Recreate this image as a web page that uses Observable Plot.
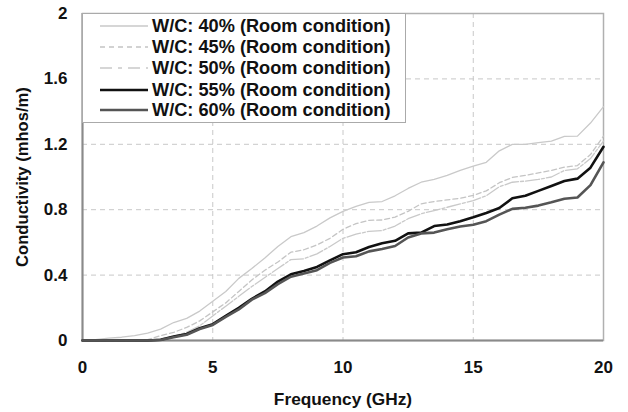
<!DOCTYPE html>
<html>
<head>
<meta charset="utf-8">
<script src="https://cdn.jsdelivr.net/npm/d3@7"></script>
<script src="https://cdn.jsdelivr.net/npm/@observablehq/plot@0.6"></script>
<style>
  html, body { margin: 0; padding: 0; background: #fff; }
  #wrap { position: relative; width: 628px; height: 412px; font-family: "Liberation Sans", Arial, sans-serif; }
  #wrap svg text { font-family: "Liberation Sans", Arial, sans-serif; font-weight: bold; fill: #111; }
  #wrap svg g[aria-label="x-axis label"] text { font-size: 17.3px; }
  #wrap svg g[aria-label="y-axis label"] text { font-size: 16.6px; }
  #legend { position: absolute; background: #fff; border: 1px solid #aaa; box-sizing: border-box; }
  .item { position: absolute; left: 0; height: 20px; display: flex; align-items: center; white-space: nowrap; }
  .item span { font-weight: bold; font-size: 18.2px; color: #111; margin-left: 4px; }
</style>
</head>
<body>
<div id="wrap"></div>
<script>
const freq = [0,0.5,1,1.5,2,2.5,3,3.5,4,4.5,5,5.5,6,6.5,7,7.5,8,8.5,9,9.5,10,10.5,11,11.5,12,12.5,13,13.5,14,14.5,15,15.5,16,16.5,17,17.5,18,18.5,19,19.5,20];
const wc40 = [0,0.005,0.015,0.02,0.03,0.045,0.07,0.11,0.135,0.18,0.24,0.3,0.38,0.44,0.505,0.575,0.635,0.66,0.7,0.75,0.79,0.82,0.845,0.85,0.885,0.93,0.968,0.985,1.01,1.04,1.066,1.09,1.16,1.2,1.2,1.21,1.22,1.248,1.25,1.33,1.43];
const wc45 = [0,0,0,0,0,0.005,0.03,0.05,0.08,0.12,0.175,0.23,0.3,0.37,0.43,0.48,0.54,0.555,0.585,0.625,0.68,0.715,0.735,0.737,0.755,0.79,0.836,0.85,0.86,0.87,0.887,0.915,0.965,0.997,1.01,1.025,1.04,1.06,1.07,1.137,1.25];
const wc50 = [0,0,0,0,0,0,0.01,0.025,0.05,0.09,0.15,0.21,0.27,0.33,0.385,0.44,0.495,0.5,0.53,0.575,0.625,0.65,0.668,0.672,0.7,0.745,0.775,0.795,0.815,0.835,0.856,0.885,0.94,0.968,0.975,0.985,1.0,1.04,1.05,1.113,1.22];
const wc55 = [0,0,0,0,0,0,0.005,0.025,0.04,0.075,0.1,0.15,0.2,0.255,0.3,0.36,0.405,0.425,0.45,0.49,0.528,0.54,0.572,0.595,0.61,0.655,0.66,0.7,0.71,0.73,0.754,0.78,0.81,0.87,0.885,0.915,0.945,0.975,0.99,1.057,1.185];
const wc60 = [0,0,0,0,0,0,0.003,0.02,0.035,0.07,0.095,0.145,0.19,0.25,0.29,0.345,0.39,0.41,0.43,0.475,0.508,0.515,0.545,0.56,0.578,0.63,0.655,0.66,0.68,0.697,0.708,0.73,0.77,0.805,0.812,0.825,0.845,0.867,0.875,0.95,1.09];
const seriesNames = ["W/C: 40% (Room condition)","W/C: 45% (Room condition)","W/C: 50% (Room condition)","W/C: 55% (Room condition)","W/C: 60% (Room condition)"];
const xTicks = [0,5,10,15,20];
const yTicks = [0,0.4,0.8,1.2,1.6,2];

const styles = [
  {stroke: "#c9c9c9", strokeWidth: 1.3, dash: null},
  {stroke: "#c4c4c4", strokeWidth: 1.3, dash: "5,3"},
  {stroke: "#c9c9c9", strokeWidth: 1.3, dash: "14,2,3,2"},
  {stroke: "#111111", strokeWidth: 2.6, dash: null},
  {stroke: "#555555", strokeWidth: 2.6, dash: null}
];
const allSeries = [wc40, wc45, wc50, wc55, wc60];

const W = 628, H = 412;
const mL = 82, mR = 25, mT = 13, mB = 72;

const marks = [
  Plot.gridX(xTicks.slice(1, -1), {stroke: "#c8c8c8", strokeOpacity: 1, strokeDasharray: "5,4"}),
  Plot.gridY(yTicks.slice(1, -1), {stroke: "#c8c8c8", strokeOpacity: 1, strokeDasharray: "5,4"}),
  Plot.frame({stroke: "#b0b0b0", strokeWidth: 1.5}),
  Plot.ruleX([0], {stroke: "#8a8a8a", strokeWidth: 2}),
  Plot.ruleY([0], {stroke: "#8a8a8a", strokeWidth: 2}),
  Plot.axisX({ticks: xTicks, tickSize: 0, tickPadding: 20, fontSize: 17, tickFormat: d => String(d),
    label: "Frequency (GHz)", labelAnchor: "center", labelOffset: 64, labelArrow: "none"}),
  Plot.axisY({ticks: yTicks, tickSize: 0, tickPadding: 15, fontSize: 17, tickFormat: d => String(d),
    label: "Conductivity (mhos/m)", labelAnchor: "center", labelOffset: 66, labelArrow: "none"})
];
allSeries.forEach((arr, k) => {
  const rows = freq.map((f, i) => ({f, v: arr[i]}));
  marks.push(Plot.line(rows, {x: "f", y: "v", stroke: styles[k].stroke, strokeWidth: styles[k].strokeWidth,
    strokeDasharray: styles[k].dash || undefined, strokeLinejoin: "round"}));
});

const chart = Plot.plot({
  width: W, height: H,
  marginLeft: mL, marginRight: mR, marginTop: mT, marginBottom: mB,
  style: {fontFamily: "Liberation Sans, Arial, sans-serif", fontSize: "16px", background: "#fff"},
  x: {domain: [0, 20]},
  y: {domain: [0, 2]},
  marks
});
const wrap = document.getElementById("wrap");
wrap.appendChild(chart);

// Legend overlay inside plot area (top-left)
const legend = document.createElement("div");
legend.id = "legend";
legend.style.left = mL + "px";
legend.style.top = mT + "px";
legend.style.width = "324px";
legend.style.height = "110px";
const rowY = [2, 23, 44, 66, 86];
seriesNames.forEach((name, k) => {
  const it = document.createElement("div");
  it.className = "item";
  it.style.top = rowY[k] + "px";
  it.style.left = "17px";
  const s = styles[k];
  it.innerHTML = `<svg width="48" height="20"><line x1="0" y1="10" x2="48" y2="10" stroke="${s.stroke}" stroke-width="${s.strokeWidth + (k < 3 ? 0.3 : 0)}" ${s.dash ? `stroke-dasharray="${k === 2 ? "12,6,4,6" : "5,4"}"` : ""}/></svg><span>${name}</span>`;
  legend.appendChild(it);
});
wrap.appendChild(legend);
</script>
</body>
</html>
